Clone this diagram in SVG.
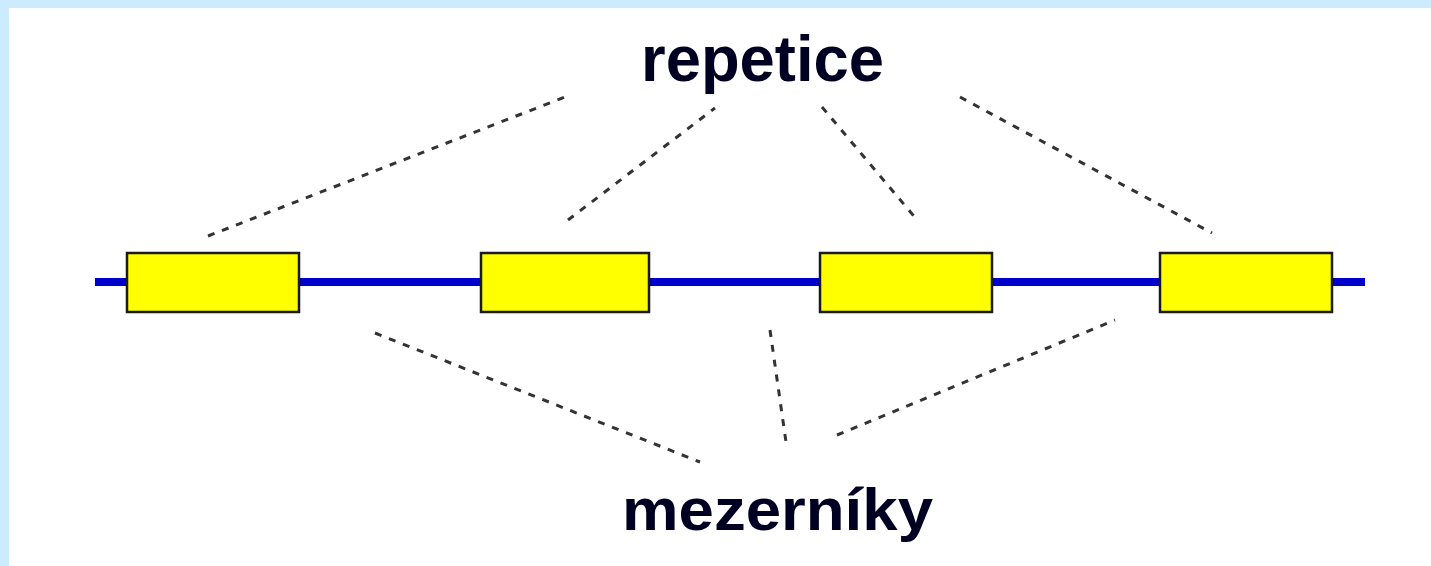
<svg xmlns="http://www.w3.org/2000/svg" width="1431" height="566" viewBox="0 0 1431 566">
<style>
.lbl{font-family:"Liberation Sans",Arial,sans-serif;font-weight:bold;fill:#000022;}
.box{fill:#FFFF00;stroke:#1a1a1a;stroke-width:2.5;}
.dash{stroke:#333333;stroke-width:3;stroke-dasharray:7 8;fill:none;}
</style>
<rect x="0" y="0" width="1431" height="566" fill="#ffffff"/>
<rect x="0" y="0" width="1431" height="8" fill="#CCEBFF"/>
<rect x="0" y="0" width="9" height="566" fill="#CCEBFF"/>
<g id="backbone">
<line x1="95" y1="282" x2="1365" y2="282" stroke="#0000CC" stroke-width="8"/>
</g>
<g id="repeat1"><rect class="box" x="127" y="253" width="172" height="59"/></g>
<g id="repeat2"><rect class="box" x="481" y="253" width="168" height="59"/></g>
<g id="repeat3"><rect class="box" x="820" y="253" width="172" height="59"/></g>
<g id="repeat4"><rect class="box" x="1160" y="253" width="172" height="59"/></g>
<g id="label-repetice"><text class="lbl" x="641" y="81" font-size="65" textLength="243" lengthAdjust="spacingAndGlyphs">repetice</text></g>
<g id="label-mezerniky"><text class="lbl" x="622" y="530" font-size="60" textLength="311" lengthAdjust="spacingAndGlyphs">mezerníky</text></g>
<g id="connectors">
<line class="dash" x1="208" y1="236" x2="565" y2="97"/>
<line class="dash" x1="568" y1="220" x2="715" y2="108"/>
<line class="dash" x1="822" y1="107" x2="918" y2="221"/>
<line class="dash" x1="960" y1="97" x2="1212" y2="233"/>
<line class="dash" x1="375" y1="333" x2="700" y2="462"/>
<line class="dash" x1="770" y1="330" x2="786" y2="442"/>
<line class="dash" x1="837" y1="435" x2="1115" y2="320"/>
</g>
</svg>
